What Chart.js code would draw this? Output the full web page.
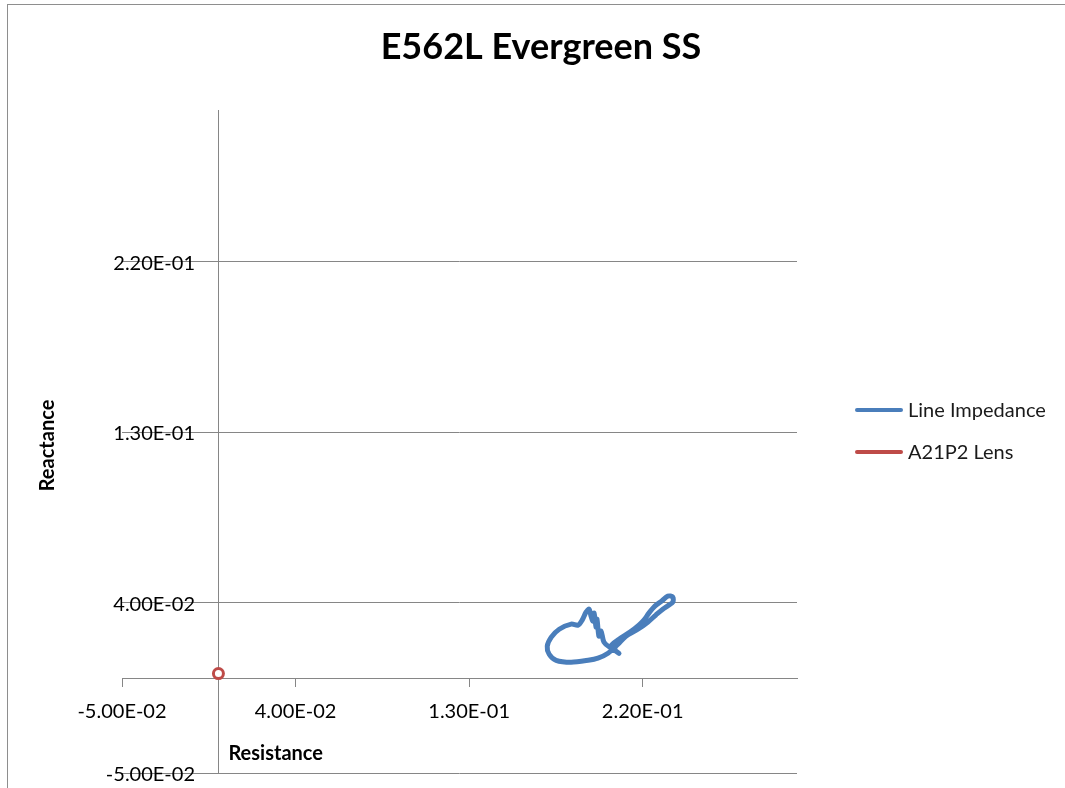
<!DOCTYPE html>
<html>
<head>
<meta charset="utf-8">
<title>E562L Evergreen SS</title>
<script src="https://cdn.jsdelivr.net/npm/chart.js"></script>
<style>
  html, body { margin: 0; padding: 0; background: #fff; }
  #wrap { position: relative; width: 1065px; height: 788px; overflow: hidden; }
  #frame { position: absolute; left: 7px; top: 4px; width: 1200px; height: 900px; border: 1px solid #8e8e8e; box-sizing: border-box; }
  #impedanceChart { position: absolute; left: 0; top: 0; }
</style>
</head>
<body>
<div id="wrap">
  <div id="frame"></div>
  <canvas id="impedanceChart" width="1065" height="788"></canvas>
</div>
<script>
// R-X impedance plane: line impedance locus and the A21P2 lens point
const chartTitle = 'E562L Evergreen SS';
const xTicks = [-0.05, 0.04, 0.13, 0.22];
const yTicks = [-0.05, 0.04, 0.13, 0.22];
const axisMin = -0.05;
const axisMax = 0.30;

// Line impedance trajectory (resistance, reactance)
const impedanceR = [0.2077, 0.2035, 0.2077, 0.2134, 0.2180, 0.2206, 0.2232, 0.2263, 0.2299, 0.2330, 0.2356,
                    0.2356, 0.2335, 0.2304, 0.2268, 0.2226, 0.2175, 0.2113, 0.2072, 0.2020, 0.1968,
                    0.1917, 0.1829, 0.1751, 0.1715, 0.1705, 0.1726, 0.1767, 0.1829, 0.1865, 0.1886,
                    0.1906, 0.1922, 0.1932, 0.1942, 0.1948, 0.1958, 0.1963, 0.1973, 0.1984, 0.1999,
                    0.2030, 0.2056];
const impedanceX = [0.0132, 0.0169, 0.0206, 0.0244, 0.0281, 0.0307, 0.0344, 0.0381, 0.0408, 0.0434, 0.0429,
                    0.0402, 0.0386, 0.0365, 0.0334, 0.0296, 0.0259, 0.0222, 0.0180, 0.0132, 0.0106,
                    0.0095, 0.0085, 0.0095, 0.0127, 0.0169, 0.0217, 0.0259, 0.0286, 0.0281, 0.0307,
                    0.0349, 0.0365, 0.0328, 0.0302, 0.0344, 0.0270, 0.0312, 0.0222, 0.0249, 0.0191,
                    0.0164, 0.0159];

// A21P2 lens point
const lensR = [0];
const lensX = [0.0025];

const FONT = 'Lato, "Open Sans", sans-serif';
const AXIS_GRAY = '#868686';
const tickFont = { family: FONT, size: 20 };

function toPoints(xs, ys) {
    return xs.map((x, i) => ({ x: x, y: ys[i] }));
}

// 2.20E-01 style labels
function sci(v) {
    const parts = Number(v).toExponential(2).split('e');
    const n = parseInt(parts[1], 10);
    return parts[0] + 'E' + (n < 0 ? '-' : '+') + String(Math.abs(n)).padStart(2, '0');
}

// no extra room for labels hanging past the axis ends
function noPadding(scale) {
    scale.paddingTop = 0;
    scale.paddingBottom = 0;
    scale.paddingLeft = 0;
    scale.paddingRight = 0;
}

const canvas = document.getElementById('impedanceChart');
const ctx = canvas.getContext('2d');

// widest reactance label, so the mirrored labels end 73px right of the plot edge
ctx.font = tickFont.size + 'px ' + FONT;
const widestY = Math.max(...yTicks.map(v => ctx.measureText(sci(v)).width));

// title, axis titles and the side legend
const decorations = {
    id: 'decorations',
    afterDraw(chart) {
        const { ctx, chartArea, scales } = chart;
        ctx.save();
        ctx.fillStyle = '#000';
        ctx.textBaseline = 'middle';

        ctx.textAlign = 'center';
        ctx.font = 'bold 36px ' + FONT;
        ctx.fillText(chartTitle, 541, 47);

        ctx.font = 'bold 20px ' + FONT;
        ctx.textAlign = 'left';
        ctx.fillText('Resistance', scales.x.getPixelForValue(0) + 10, chartArea.bottom - 19);

        ctx.save();
        ctx.translate(48, (chartArea.top + chartArea.bottom) / 2 + 4);
        ctx.rotate(-Math.PI / 2);
        ctx.textAlign = 'center';
        ctx.fillText('Reactance', 0, 0);
        ctx.restore();

        const lx = chartArea.right + 58;
        let ly = chartArea.top + 300;
        ctx.font = '20px ' + FONT;
        ctx.fillStyle = '#1a1a1a';
        ctx.lineCap = 'round';
        ctx.lineWidth = 4;
        chart.data.datasets.forEach(ds => {
            ctx.strokeStyle = ds.borderColor;
            ctx.beginPath();
            ctx.moveTo(lx + 2, ly);
            ctx.lineTo(lx + 46, ly);
            ctx.stroke();
            ctx.fillText(ds.label, lx + 53, ly + 1);
            ly += 42;
        });
        ctx.restore();
    }
};

new Chart(ctx, {
    type: 'scatter',
    data: {
        datasets: [
            {
                label: 'Line Impedance',
                data: toPoints(impedanceR, impedanceX),
                showLine: true,
                borderColor: '#4a7ebb',
                backgroundColor: '#4a7ebb',
                borderWidth: 5,
                tension: 0.3,
                pointRadius: 0,
                borderCapStyle: 'round',
                borderJoinStyle: 'round'
            },
            {
                label: 'A21P2 Lens',
                data: toPoints(lensR, lensX),
                borderColor: '#be4b48',
                backgroundColor: '#ffffff',
                pointRadius: 5,
                pointBorderWidth: 3,
                pointStyle: 'circle'
            }
        ]
    },
    options: {
        responsive: false,
        animation: false,
        events: [],
        layout: { padding: { left: 122, right: 268, top: 110, bottom: 15 } },
        scales: {
            x: {
                type: 'linear',
                min: axisMin,
                max: axisMax,
                position: { y: 0 },
                afterFit(scale) { scale.height = 0; noPadding(scale); },
                afterBuildTicks(scale) { scale.ticks = xTicks.map(v => ({ value: v })); },
                grid: { drawOnChartArea: false, tickLength: 8, color: AXIS_GRAY, tickColor: AXIS_GRAY },
                border: { color: AXIS_GRAY, width: 1 },
                ticks: {
                    callback: v => sci(v),
                    font: tickFont,
                    color: '#000',
                    padding: 13,
                    maxRotation: 0,
                    autoSkip: false
                }
            },
            // value axis drawn through R = 0, gridlines across the plot
            y: {
                type: 'linear',
                min: axisMin,
                max: axisMax,
                position: { x: 0 },
                afterFit(scale) { scale.width = 0; noPadding(scale); },
                afterBuildTicks(scale) { scale.ticks = yTicks.map(v => ({ value: v })); },
                grid: { color: AXIS_GRAY, tickColor: AXIS_GRAY, tickLength: 8 },
                border: { color: AXIS_GRAY, width: 1 },
                ticks: { display: false }
            },
            // labels for the reactance axis, just left of R = 0
            yLabels: {
                type: 'linear',
                min: axisMin,
                max: axisMax,
                position: 'left',
                afterFit(scale) { scale.width = 0; noPadding(scale); },
                afterBuildTicks(scale) { scale.ticks = yTicks.map(v => ({ value: v })); },
                grid: { display: false, drawTicks: false },
                border: { display: false },
                ticks: {
                    callback: v => sci(v),
                    font: tickFont,
                    color: '#000',
                    mirror: true,
                    crossAlign: 'far',
                    padding: 73 - widestY,
                    labelOffset: 2,
                    autoSkip: false
                }
            }
        },
        plugins: {
            legend: { display: false },
            tooltip: { enabled: false },
            title: { display: false }
        }
    },
    plugins: [decorations]
});
</script>
</body>
</html>
